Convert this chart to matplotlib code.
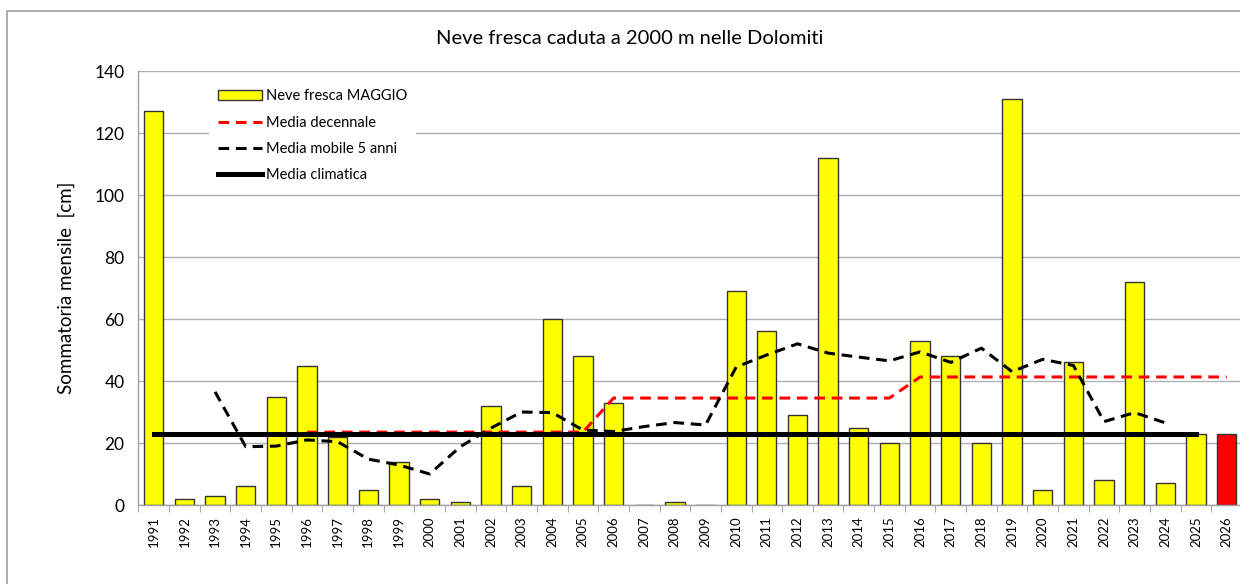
import numpy as np
import matplotlib.pyplot as plt
from matplotlib.patches import Rectangle

plt.rcParams['font.family'] = ['Lato', 'DejaVu Sans']

years = list(range(1991, 2027))
neve = [127, 2, 3, 6, 35, 45, 22, 5, 14, 2, 1, 32, 6, 60, 48, 33, 0, 1, 0, 69,
        56, 29, 112, 25, 20, 53, 48, 20, 131, 5, 46, 8, 72, 7, 23, 23]
# last year (2026) drawn in red
bar_colors = ['#ffff00'] * 35 + ['#ff0000']

# media decennale (1996-2026)
dec_years = list(range(1996, 2027))
dec_vals = [23.5] * 10 + [34.5] * 10 + [41.3] * 11

# media mobile 5 anni (1993-2024)
mm_years = list(range(1993, 2025))
mm_vals = [36.5, 18.8, 19.0, 21.0, 20.4, 14.8, 12.9, 10.0, 18.8, 24.8, 30.0, 29.8,
           24.2, 23.7, 25.3, 26.6, 25.8, 44.5, 48.4, 52.0, 49.0, 47.7, 46.5, 49.4,
           46.0, 50.6, 43.0, 47.0, 45.0, 26.9, 29.8, 26.5]

# media climatica (1991-2025)
clim_years = [1991, 2025]
clim_vals = [23, 23]

fig = plt.figure(figsize=(12.4, 5.84), dpi=100)
ax = fig.add_axes([138.4/1240, 1-505/584, 1103.6/1240, 434/584])

x = np.arange(len(years))
bars = ax.bar(x, neve, width=0.63, color=bar_colors, edgecolor='#333333', linewidth=1.0,
              label='Neve fresca MAGGIO', zorder=2)

def idx(yrs):
    return [years.index(y) for y in yrs]

l1, = ax.plot(idx(dec_years), dec_vals, color='#ff0000', lw=2.2, ls=(0, (3.5, 2.2)),
              label='Media decennale', zorder=3)
l2, = ax.plot(idx(mm_years), mm_vals, color='black', lw=2.2, ls=(0, (3.5, 2.2)),
              label='Media mobile 5 anni', zorder=3)
l3, = ax.plot(idx(clim_years), clim_vals, color='black', lw=3.6,
              label='Media climatica', zorder=4)

ax.set_xlim(-0.5, len(years) - 0.5)
ax.set_ylim(0, 140)
ax.set_yticks(range(0, 141, 20))
ax.yaxis.grid(True, color='#b0b0b0', lw=1.0, zorder=0)
ax.set_axisbelow(True)

ax.set_xticks(x)
ax.set_xticklabels([str(y) for y in years], rotation=90, fontsize=9.5)
ax.set_xticks(np.arange(-0.5, len(years), 1), minor=True)
ax.tick_params(axis='x', which='major', length=0, pad=8)
ax.tick_params(axis='x', which='minor', length=5, color='#999999')
ax.tick_params(axis='y', length=0, labelsize=12.5, pad=10)

for s in ['top', 'right']:
    ax.spines[s].set_visible(False)
for s in ['left', 'bottom']:
    ax.spines[s].set_color('#a0a0a0')
    ax.spines[s].set_linewidth(1.0)

ax.set_ylabel('Sommatoria mensile  [cm]', fontsize=13.5, labelpad=14)

leg = ax.legend([bars, l1, l2, l3],
                ['Neve fresca MAGGIO', 'Media decennale', 'Media mobile 5 anni', 'Media climatica'],
                loc='upper left', bbox_to_anchor=(0.064, 0.978), frameon=True,
                fontsize=10.5, handlelength=3.0, labelspacing=0.85,
                borderpad=0.6, handletextpad=0.3, borderaxespad=0)
leg.get_frame().set_edgecolor('none')
leg.get_frame().set_facecolor('white')
leg.get_frame().set_alpha(1.0)

fig.text(630/1240, 1-38/584, 'Neve fresca caduta a 2000 m nelle Dolomiti',
         ha='center', va='center', fontsize=14.5)

fig.patches.append(Rectangle((7/1240, -0.1), 1.2, 1.1 - 11/584,
                             transform=fig.transFigure, fill=False,
                             edgecolor='#a0a0a0', lw=1.2, zorder=0))

fig.savefig('out.png', dpi=100)
